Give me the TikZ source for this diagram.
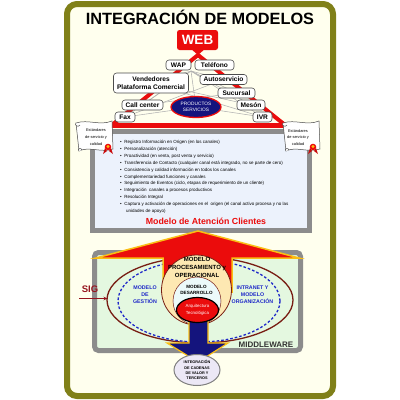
\documentclass[tikz,border=0pt]{standalone}
\usepackage{fontspec}
\setmainfont{Liberation Sans}
\usetikzlibrary{shapes.geometric,arrows.meta}
\pgfdeclarelayer{back}
\pgfdeclarelayer{conns}
\pgfsetlayers{back,conns,main}
\definecolor{olivec}{RGB}{128,128,25}
\definecolor{creamc}{RGB}{255,255,238}
\definecolor{webred}{RGB}{235,12,12}
\definecolor{panelgray}{RGB}{140,140,140}
\definecolor{lightblue}{RGB}{236,242,252}
\definecolor{lightgreen}{RGB}{228,248,224}
\definecolor{navyc}{RGB}{20,20,125}
\definecolor{gold}{RGB}{250,190,20}
\definecolor{brownc}{RGB}{120,30,20}
\definecolor{peach}{RGB}{253,232,178}
\definecolor{lightcyan}{RGB}{236,250,250}
\definecolor{lavender}{RGB}{236,232,246}
\definecolor{darkred}{RGB}{150,20,30}
\definecolor{bluetext}{RGB}{30,40,200}
\tikzset{
  chbox/.style={draw=gray!60!black, fill=white, rounded corners=3pt, line width=0.6pt,
    font=\bfseries\fontsize{6.6}{7.6}\selectfont, inner sep=1pt, minimum height=10pt, align=center},
  conn/.style={draw=gray!60, line width=0.55pt},
  bul/.style={anchor=west, font=\fontsize{4.5}{5}\selectfont, inner sep=0pt},
  scrolltxt/.style={font=\fontsize{3.9}{6.8}\selectfont, align=center, inner sep=0pt},
  bluelab/.style={text=bluetext, font=\bfseries\fontsize{5.3}{7}\selectfont, align=center, inner sep=0pt}
}
\begin{document}
\begin{tikzpicture}[x=1pt,y=-1pt]
\useasboundingbox (0,0) rectangle (400,400);
\begin{pgfonlayer}{back}
\fill[white] (0,0) rectangle (400,400);
\draw[olivec, line width=6pt, fill=creamc, rounded corners=10pt] (67,4) rectangle (333,396);
\end{pgfonlayer}
\node[font=\bfseries\fontsize{16.3}{17}\selectfont] (title) at (200,17) {INTEGRACIÓN DE MODELOS};

% triangle
\coordinate (apex) at (198,55);
\coordinate (bl) at (112,125);
\coordinate (br) at (285,125);
\draw[webred, line width=4pt, line join=round] (apex) -- (bl) -- (br) -- cycle;

% WEB
\fill[webred] (190,48) -- (206,48) -- (apex) -- cycle;
\node[fill=webred, rounded corners=2.5pt, minimum width=41pt, minimum height=20pt, text=white,
  font=\bfseries\fontsize{13.5}{14}\selectfont, inner sep=0pt] (web) at (197.5,40) {WEB};

% channel boxes
\coordinate (hub) at (191,71);
\node[chbox, minimum width=25pt] (wap) at (178.5,65) {WAP};
\node[chbox, minimum width=39pt] (tel) at (214.5,65) {Teléfono};
\node[chbox, minimum width=75pt, minimum height=20pt] (vend) at (151,83) {Vendedores\\Plataforma Comercial};
\node[chbox, minimum width=47pt] (auto) at (223.5,79.5) {Autoservicio};
\node[chbox, minimum width=37pt] (suc) at (236.5,93) {Sucursal};
\node[chbox, minimum width=41pt] (call) at (142.5,105) {Call center};
\node[chbox, minimum width=28pt] (meson) at (251,105) {Mesón};
\node[chbox, minimum width=20pt] (fax) at (125,117) {Fax};
\node[chbox, minimum width=19pt] (ivr) at (262.5,117) {IVR};
\node[ellipse, fill=navyc, draw=webred, line width=1.3pt, minimum width=50pt, minimum height=21pt,
  text=white, font=\fontsize{4.8}{6}\selectfont, align=center, inner sep=0pt] (ps) at (196,107) {PRODUCTOS\\SERVICIOS};

% gray connectors (behind boxes)
\begin{pgfonlayer}{conns}
\foreach \b in {fax,call,ivr,meson,ps,suc,vend,auto}{
  \draw[conn] (hub) -- (\b.center);
}
\draw[conn] (vend.center) -- (ivr.center);
\draw[conn] (vend.center) -- (meson.center);
\draw[conn] (fax.center) -- (auto.center);
\draw[conn] (call.center) -- (suc.center);
\draw[conn] (fax.center) -- (ps.center);
\draw[conn] (ivr.center) -- (ps.center);
\end{pgfonlayer}

% main panel
\draw[panelgray, line width=5pt, fill=lightblue] (92,131) rectangle (309,230.5);
\draw[webred, line width=5pt] (bl) -- (br);

% bullet list
\foreach \t [count=\i] in {
  Registro Información en Origen (en los canales),
  Personalización (atención),
  Proactividad (en venta{,} post venta y servicio),
  Transferencia de Contacto (cualquier canal está integrado{,} no se parte de cero),
  Consistencia y calidad información en todos los canales,
  Complementariedad funciones y canales,
  Seguimiento de Eventos (ciclo{,} etapas de requerimiento de un cliente),
  Integración\ \ canales a procesos productivos,
  Resolución Integral,
  Captura y activación de operaciones en el\ \ origen (el canal activo procesa y no las}{
  \node[bul] (b\i) at (120,135.5+6.9*\i) {\textbullet\hspace{2.6pt}\t};
}
\node[bul] (b11) at (126,211.4) {unidades de apoyo)};
\node[text=webred, font=\bfseries\fontsize{8.8}{9}\selectfont, inner sep=0pt] (mac) at (206,221) {Modelo de Atención Clientes};

% scrolls
\foreach \n/\x in {L/76, R/283}{
  \draw[gray!60!black, line width=0.5pt, fill=white]
    (\x,123) .. controls (\x+12,119) and (\x+24,126) .. (\x+36,121)
    -- (\x+37,149) .. controls (\x+25,153) and (\x+13,146) .. (\x+3,151) -- cycle;
  \draw[gray!60!black, line width=0.5pt, fill=white] (\x,123) .. controls (\x-2,125) and (\x+2,128) .. (\x+4,125);
  \draw[gray!60!black, line width=0.5pt, fill=white] (\x+3,151) .. controls (\x+1,149) and (\x+5,147) .. (\x+6,150);
}
\node[scrolltxt] (sL) at (96,137) {Estándares\\de servicio y\\calidad};
\node[scrolltxt] (sR) at (298,137.5) {Estándares\\de servicio y\\calidad};
\foreach \x in {108,313}{
  \fill[webred!85!black] (\x-3,148) -- (\x-5,154) -- (\x-1,151) -- cycle;
  \fill[webred!85!black] (\x+3,148) -- (\x+5,154) -- (\x+1,151) -- cycle;
  \fill[webred] (\x,147) circle[radius=3.3pt];
  \fill[gold] (\x,146.5) circle[radius=1.6pt];
}

% lower panel
\draw[panelgray, line width=5pt, fill=lightgreen, rounded corners=4pt] (94.5,252.5) rectangle (300.5,350.5);
\draw[brownc, line width=1.3pt] (200,300) ellipse [x radius=93pt, y radius=43pt];
\draw[bluetext, line width=1.3pt, dash pattern=on 2.6pt off 2pt] (199,301) ellipse [x radius=81pt, y radius=41pt];

% big red arrow
\draw[fill=webred, draw=gold, line width=1.5pt, line join=miter]
  (198,231) -- (299,258) -- (232,258) -- (232,292) -- (163,292) -- (163,258) -- (96,258) -- cycle;

\node[circle, fill=peach, draw=brownc, line width=0.8pt, minimum size=70pt] (proc) at (196.5,290) {};
\node[font=\bfseries\fontsize{6}{8}\selectfont, align=center, inner sep=0pt] (proct) at (197,267) {MODELO\\PROCESAMIENTO y\\OPERACIONAL};
\node[circle, fill=lightcyan, draw=brownc, line width=0.5pt, minimum size=48pt] (des) at (197,301) {};
\node[font=\bfseries\fontsize{4.6}{6}\selectfont, align=center, inner sep=0pt] (dest) at (196.5,290) {MODELO\\DESARROLLO};

% navy arrow
\draw[fill=navyc, draw=gold, line width=1.2pt, line join=miter]
  (189,316) -- (208,316) -- (208,343) -- (228,343) -- (198,362) -- (167,343) -- (189,343) -- cycle;
\node[ellipse, fill=webred, draw=black, line width=1.2pt, minimum width=42pt, minimum height=25pt,
  text=white, font=\fontsize{4.4}{6.8}\selectfont, align=center, inner sep=0pt] (arq) at (197.5,310) {Arquitectura\\Tecnológica};

\node[ellipse, fill=lavender, draw=gray, line width=1pt, minimum width=46pt, minimum height=31pt,
  font=\bfseries\fontsize{3.8}{5.2}\selectfont, align=center, inner sep=0pt] (icv) at (197,370) {INTEGRACIÓN\\DE CADENAS\\DE VALOR Y\\TERCEROS};

% labels
\node[text=darkred, font=\bfseries\fontsize{9.5}{10}\selectfont, inner sep=0pt] (sig) at (90,289) {SIG};
\coordinate (sigs) at (79,298.5);
\coordinate (sige) at (107.5,298.5);
\draw[darkred, line width=1pt, -{Stealth[length=4pt,width=3.5pt]}] (sigs) -- (sige);
\node[bluelab] (gest) at (145,295) {MODELO\\DE\\GESTIÓN};
\node[bluelab] (intra) at (252.5,295) {INTRANET Y\\MODELO\\ORGANIZACIÓN};
\node[text=black!80, font=\bfseries\fontsize{8}{9}\selectfont, inner sep=0pt] (mw) at (266,345) {MIDDLEWARE};
\end{tikzpicture}
\end{document}
